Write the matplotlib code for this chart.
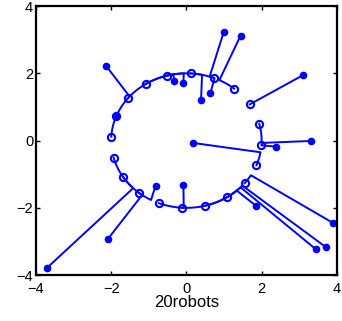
import numpy as np
import matplotlib
matplotlib.use("Agg")
import matplotlib.pyplot as plt

plt.rcParams['font.family'] = ['Liberation Sans', 'DejaVu Sans']

# start positions of the 20 robots
start_x = [-2.14, -1.86, -0.32, -0.08, 0.39, 0.64, 0.99, 1.44, 3.09, 3.32,
           2.38, 0.18, 3.90, 3.71, 3.44, 1.85, -0.08, -0.82, -2.09, -3.70]
start_y = [2.23, 0.73, 1.76, 1.71, 1.21, 1.42, 3.22, 3.12, 1.94, -0.01,
           -0.18, -0.07, -2.45, -3.17, -3.23, -1.94, -1.33, -1.34, -2.93, -3.78]
# angle (deg) where each robot reaches the formation circle
entry_deg = [139, 158.6, 100, 92, 78, 68, 72, 64, 32.6, -2,
             -4, -10, -31, -42, -44, -48, -92, -118, -126, -135]
# final angle (deg) on the circle
final_deg = [176.6, 158.6, 140.6, 122.6, 104.6, 86.6, 68.6, 50.6, 32.6, 14.6,
             -3.4, -21.4, -39.4, -57.4, -75.4, -93.4, -111.4, -129.4, -147.4, -165.4]
radius = 2.0

fig = plt.figure(figsize=(3.42, 3.21), dpi=100)
ax = fig.add_axes([0.105, 0.143, 0.880, 0.838])

blue = (0, 0, 1)
for sx, sy, e, f in zip(start_x, start_y, entry_deg, final_deg):
    arc = np.radians(np.linspace(e, f, 40))
    xs = np.concatenate([[sx], radius * np.cos(arc)])
    ys = np.concatenate([[sy], radius * np.sin(arc)])
    ax.plot(xs, ys, color=blue, lw=1.4)
    ax.plot(sx, sy, 'o', color=blue, ms=4.5)
    ax.plot(xs[-1], ys[-1], 'o', mfc='none', mec=blue, mew=1.5, ms=5.2)

ax.set_xlim(-4, 4)
ax.set_ylim(-4, 4)
ax.set_xticks([-4, -2, 0, 2, 4])
ax.set_yticks([-4, -2, 0, 2, 4])
ax.tick_params(direction='in', top=True, right=True, labelsize=10.5, length=3, width=1)
ax.tick_params(axis='x', pad=5)
ax.tick_params(axis='y', pad=2)
for s in ax.spines.values():
    s.set_linewidth(1.6)
ax.set_xlabel('20robots', fontsize=12, labelpad=-1)

fig.savefig('out.png', dpi=100)
